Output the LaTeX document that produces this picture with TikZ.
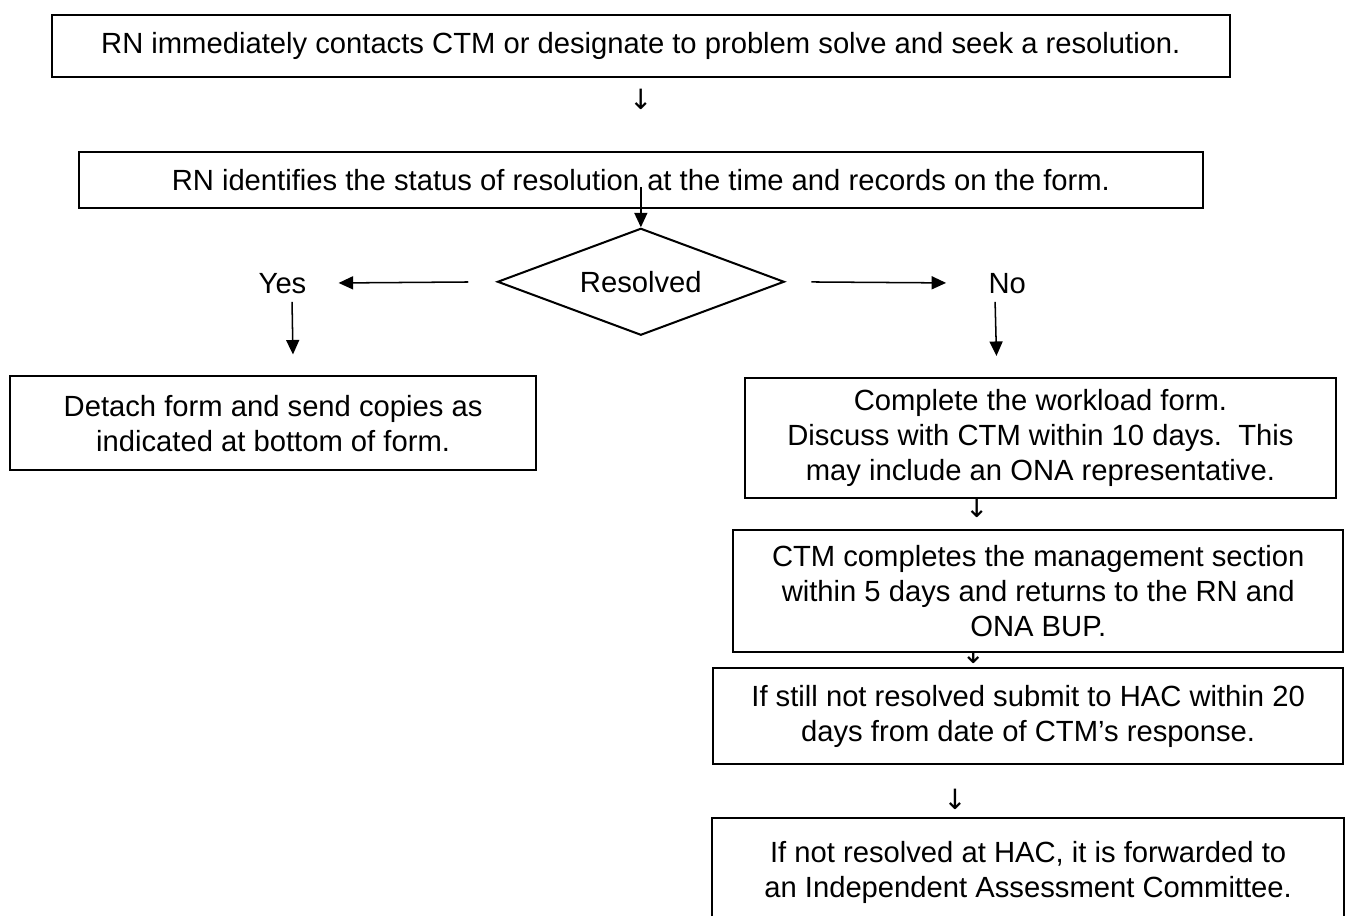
\documentclass[tikz,border=0pt]{standalone}
\usepackage{fontspec}
\setmainfont{Liberation Sans}
\newfontfamily\arrowfont{DejaVu Sans}
\usetikzlibrary{arrows.meta}
\usetikzlibrary{shapes.geometric}
\tikzset{box/.style = {draw, fill=white, line width = 0.8pt, align = center, inner sep = 0, font = \fontsize{11.5}{13.8}\selectfont}}
\tikzset{lbl/.style = {inner sep = 0, font = \fontsize{11.5}{13.8}\selectfont}}
\tikzset{glyph/.style = {inner sep = 0, font = \arrowfont\fontsize{11}{13}\selectfont}}
\tikzset{arr/.style = {line width = 0.6pt, -{Triangle[length = 0.2cm, width = 0.18cm]}}}

\begin{document}
\begin{tikzpicture}
      \useasboundingbox (0, 0) rectangle (18.63, -12.68);

      % text arrows between the boxes
      \foreach \x/\y/\n in {8.87/-1.38/down1, 13.52/-7.02/down2, 13.47/-9.05/down3, 13.22/-11.07/down4} {
        \node [glyph] (\n) at (\x, \y) {↓};
      }

      \node [box, minimum width = 16.31cm, minimum height = 0.86cm] (contact) at (8.87, -0.64)
        {RN immediately contacts CTM or designate to problem solve and seek a resolution.};
      \node [box, minimum width = 15.56cm, minimum height = 0.78cm] (status) at (8.87, -2.49)
        {RN identifies the status of resolution at the time and records on the form.};

      \node [draw, diamond, aspect = 2.68, line width = 0.8pt, inner sep = 0, minimum width = 3.97cm,
        minimum height = 1.48cm, font = \fontsize{11.5}{13.8}\selectfont] (resolved) at (8.87, -3.90) {Resolved};
      \node [lbl] (yes) at (3.91, -3.92) {Yes};
      \node [lbl] (no) at (13.94, -3.92) {No};

      \node [box, minimum width = 7.28cm, minimum height = 1.30cm] (detach) at (3.78, -5.86)
        {Detach form and send copies as\\ indicated at bottom of form.};
      \node [box, minimum width = 8.18cm, minimum height = 1.66cm] (workload) at (14.40, -6.06)
        {Complete the workload form.\\ Discuss with CTM within 10 days.\ \ This\\ may include an ONA representative.};
      \node [box, minimum width = 8.44cm, minimum height = 1.69cm] (manage) at (14.37, -8.18)
        {CTM completes the management section\\ within 5 days and returns to the RN and\\ ONA BUP.};
      \node [box, minimum width = 8.72cm, minimum height = 1.33cm] (submit) at (14.23, -9.91)
        {If still not resolved submit to HAC within 20\\ days from date of CTM’s response.};
      \node [box, draw = none, minimum width = 8.72cm, minimum height = 1.50cm] (forward) at (14.23, -12.08)
        {If not resolved at HAC, it is forwarded to\\ an Independent Assessment Committee.};
      \draw [line width = 0.8pt] (forward.north west |- 0, -12.68) -- (forward.north west)
        -- (forward.north east) -- (forward.north east |- 0, -12.68);

      \draw [arr] ([yshift = -0.1cm]status.center) -- (resolved.north);
      \draw [arr, shorten <= 0.39cm, shorten >= 0.44cm] (resolved.west) -- (yes.east);
      \draw [arr, shorten <= 0.36cm, shorten >= 0.58cm] (resolved.east) -- (no.west);
      \draw [arr, shorten <= 0.11cm, shorten >= 0.29cm] ([xshift = 0.13cm]yes.south) -- ([xshift = 0.28cm]detach.north);
      \draw [arr, shorten <= 0.11cm, shorten >= 0.29cm] ([xshift = -0.17cm]no.south) -- ([xshift = -0.60cm]workload.north);
    \end{tikzpicture}
\end{document}
